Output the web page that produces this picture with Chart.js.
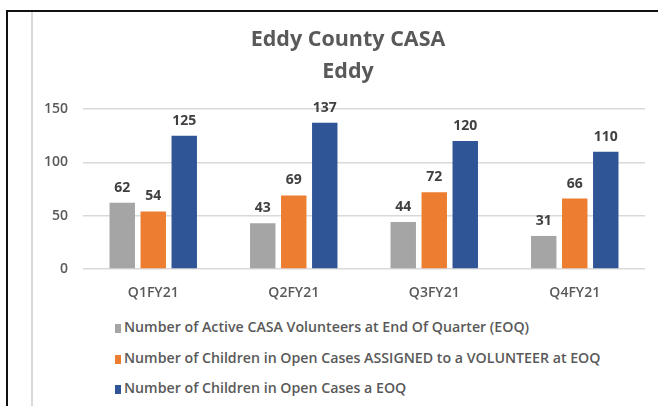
<!DOCTYPE html>
<html>
<head>
<meta charset="utf-8">
<script src="https://cdn.jsdelivr.net/npm/chart.js@4/dist/chart.umd.min.js"></script>
<style>
    html, body { margin: 0; padding: 0; background: #fff; overflow: hidden; }
    #wrap { position: relative; width: 658px; height: 406px; }
    #chart { position: absolute; left: 0; top: 0; }
    .frame { position: absolute; }
    #frameTop { left: 6px; top: 10px; width: 652px; height: 2px; background: #111; }
    #frameLeft { left: 6px; top: 10px; width: 2px; height: 396px; background: #111; }
    #innerLine { left: 31px; top: 12px; width: 2px; height: 394px; background: #d9d9d9; }
    #legend { position: absolute; left: 115px; top: 312px; font: 600 14.2px "Open Sans", sans-serif; color: #595959; }
    .item { height: 30.5px; line-height: 30.5px; white-space: nowrap; }
    .box { display: inline-block; width: 6px; height: 9px; margin-right: 3px; vertical-align: -1px; }
</style>
</head>
<body>
<div id="wrap">
    <canvas id="chart" width="658" height="310"></canvas>
    <div id="legend"></div>
    <div class="frame" id="innerLine"></div>
    <div class="frame" id="frameTop"></div>
    <div class="frame" id="frameLeft"></div>
</div>
<script>
    // Chart data
    const quarters = ["Q1FY21", "Q2FY21", "Q3FY21", "Q4FY21"];
    const activeVolunteers = [62, 43, 44, 31];
    const childrenAssigned = [54, 69, 72, 66];
    const childrenOpen = [125, 137, 120, 110];
    const yTicks = [0, 50, 100, 150];

    const seriesNames = [
        "Number of Active CASA Volunteers at End Of Quarter (EOQ)",
        "Number of Children in Open Cases ASSIGNED to a VOLUNTEER at EOQ",
        "Number of Children in Open Cases a EOQ"
    ];
    const seriesColors = ["#a5a5a5", "#ed7d31", "#2f5597"];

    const FONT = '"Open Sans", sans-serif';

    // values above each bar
    const valueLabels = {
        id: 'valueLabels',
        afterDatasetsDraw(chart) {
            const ctx = chart.ctx;
            ctx.save();
            ctx.font = 'bold 14px ' + FONT;
            ctx.fillStyle = '#404040';
            ctx.textAlign = 'center';
            ctx.textBaseline = 'alphabetic';
            chart.data.datasets.forEach((ds, i) => {
                chart.getDatasetMeta(i).data.forEach((bar, j) => {
                    ctx.fillText(ds.data[j], bar.x, bar.y - 11);
                });
            });
            ctx.restore();
        }
    };

    const seriesData = [activeVolunteers, childrenAssigned, childrenOpen];

    const chart = new Chart(document.getElementById('chart').getContext('2d'), {
        type: 'bar',
        data: {
            labels: quarters,
            datasets: seriesData.map((values, i) => ({
                label: seriesNames[i],
                data: values,
                backgroundColor: seriesColors[i],
                borderWidth: 0,
                categoryPercentage: 0.662,
                barPercentage: 0.82
            }))
        },
        options: {
            responsive: false,
            animation: false,
            layout: { padding: { left: 44, right: 6, top: 0, bottom: 0 } },
            plugins: {
                legend: { display: false },
                tooltip: { enabled: false },
                title: {
                    display: true,
                    text: ["Eddy County CASA", "Eddy"],
                    color: '#595959',
                    font: { family: FONT, size: 21.5, weight: 'bold', lineHeight: '32px' },
                    padding: { top: 24, bottom: 21 }
                }
            },
            scales: {
                x: {
                    grid: { display: false },
                    border: { display: false },
                    ticks: {
                        color: '#595959',
                        padding: 8,
                        font: { family: FONT, size: 14, weight: 600 }
                    },
                    afterFit: (s) => { s.height = 41; }
                },
                y: {
                    min: 0,
                    max: 150,
                    afterBuildTicks: (s) => { s.ticks = yTicks.map(v => ({ value: v })); },
                    grid: { color: '#d9d9d9', lineWidth: 1.5, drawTicks: false },
                    border: { display: false },
                    ticks: {
                        color: '#595959',
                        padding: 15,
                        font: { family: FONT, size: 14, weight: 600 }
                    },
                    afterFit: (s) => { s.width = 39; }
                },
                // empty right axis, only keeps the plot edge at the reference position
                yRight: {
                    position: 'right',
                    grid: { display: false },
                    border: { display: false },
                    ticks: { display: false },
                    afterFit: (s) => { s.width = 7; }
                }
            }
        },
        plugins: [valueLabels]
    });

    // legend as html, built from the datasets
    const legend = document.getElementById('legend');
    chart.data.datasets.forEach((ds) => {
        const row = document.createElement('div');
        row.className = 'item';
        const box = document.createElement('span');
        box.className = 'box';
        box.style.background = ds.backgroundColor;
        row.appendChild(box);
        row.appendChild(document.createTextNode(ds.label));
        legend.appendChild(row);
    });
</script>
</body>
</html>
